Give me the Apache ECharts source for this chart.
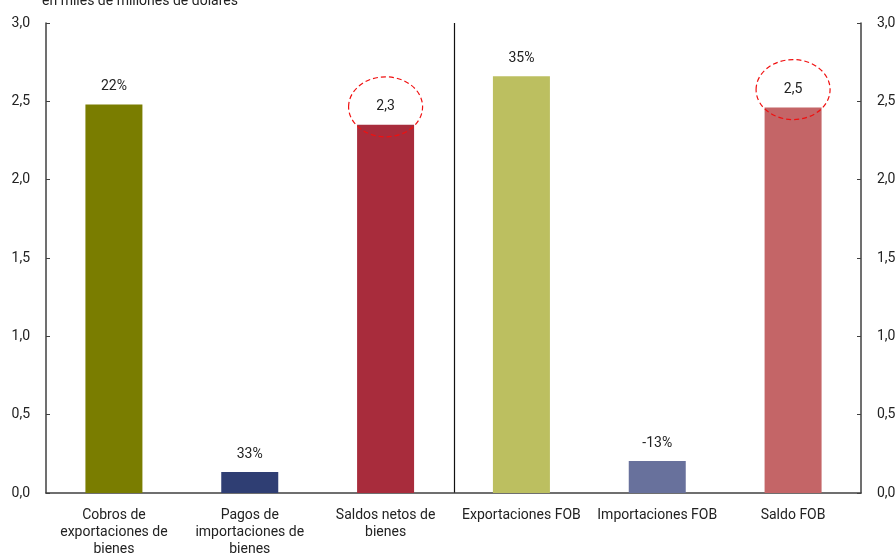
<!DOCTYPE html>
<html>
<head>
<meta charset="utf-8">
<script src="https://cdn.jsdelivr.net/npm/echarts@6/dist/echarts.min.js"></script>
<style>
  html, body { margin: 0; padding: 0; background: #fff; }
  #chart { width: 896px; height: 556px; }
</style>
</head>
<body>
<div id="chart"></div>
<script>
var categories = [
  "Cobros de\nexportaciones de\nbienes",
  "Pagos de\nimportaciones de\nbienes",
  "Saldos netos de\nbienes",
  "Exportaciones FOB",
  "Importaciones FOB",
  "Saldo FOB"
];
var values = [2.48, 0.134, 2.35, 2.66, 0.204, 2.46];
var barLabels = ["22%", "33%", "2,3", "35%", "-13%", "2,5"];
var barColors = ["#7a7d00", "#2f3e73", "#a82c3c", "#bcbf60", "#68719c", "#c46567"];
var circled = [2, 5]; // labels framed by a dashed ellipse
var subtitle = "en miles de millones de dólares";

var font = "Roboto";
var axisColor = "#404040";

function fmt(v) {
  return v.toFixed(1).replace(".", ",");
}

var chart = echarts.init(document.getElementById("chart"));

var yAxisBase = {
  type: "value",
  min: 0,
  max: 3,
  interval: 0.5,
  splitLine: { show: false },
  axisLine: { show: true, lineStyle: { color: axisColor, width: 1.5 } },
  axisTick: { show: true, inside: true, length: 4, lineStyle: { color: axisColor } },
  axisLabel: {
    color: "#222", fontFamily: font, fontSize: 14, margin: 16,
    formatter: fmt
  }
};

var option = {
  animation: false,
  title: {
    text: subtitle,
    left: 37,
    top: -11,
    textStyle: { fontFamily: font, fontSize: 14, fontWeight: "normal", color: "#222" }
  },
  grid: { left: 46, right: 35, top: 23, bottom: 63, outerBoundsMode: "none" },
  xAxis: {
    type: "category",
    data: categories,
    axisLine: { lineStyle: { color: axisColor, width: 1.5 } },
    axisTick: { show: false },
    axisLabel: {
      interval: 0, color: "#222", fontFamily: font, fontSize: 14,
      lineHeight: 17, margin: 14
    }
  },
  yAxis: [
    Object.assign({}, yAxisBase, { position: "left" }),
    Object.assign({}, yAxisBase, { position: "right" })
  ],
  series: [{
    type: "bar",
    barWidth: 57,
    data: values.map(function (v, i) {
      return { value: v, itemStyle: { color: barColors[i] } };
    }),
    label: {
      show: true,
      position: "top",
      distance: 11,
      fontFamily: font,
      fontSize: 14,
      color: "#222",
      formatter: function (p) { return barLabels[p.dataIndex]; }
    }
  }]
};

chart.setOption(option);

// separator between the two groups and dashed ellipses, placed from the axes
var g = [];
var xa = chart.convertToPixel({ xAxisIndex: 0 }, 2);
var xb = chart.convertToPixel({ xAxisIndex: 0 }, 3);
var yTop = chart.convertToPixel({ yAxisIndex: 0 }, 3);
var yBot = chart.convertToPixel({ yAxisIndex: 0 }, 0);
var xs = Math.round((xa + xb) / 2) + 0.5;
g.push({
  type: "line",
  shape: { x1: xs, y1: yTop, x2: xs, y2: yBot },
  style: { stroke: "#111", lineWidth: 1.2 }
});
circled.forEach(function (i) {
  var p = chart.convertToPixel({ xAxisIndex: 0, yAxisIndex: 0 }, [i, values[i]]);
  g.push({
    type: "ellipse",
    shape: { cx: p[0], cy: p[1] - 18, rx: 37, ry: 30 },
    style: { fill: "none", stroke: "#f01010", lineWidth: 1.2, lineDash: [5, 3] },
    z: 10
  });
});
chart.setOption({ graphic: g });
</script>
</body>
</html>
